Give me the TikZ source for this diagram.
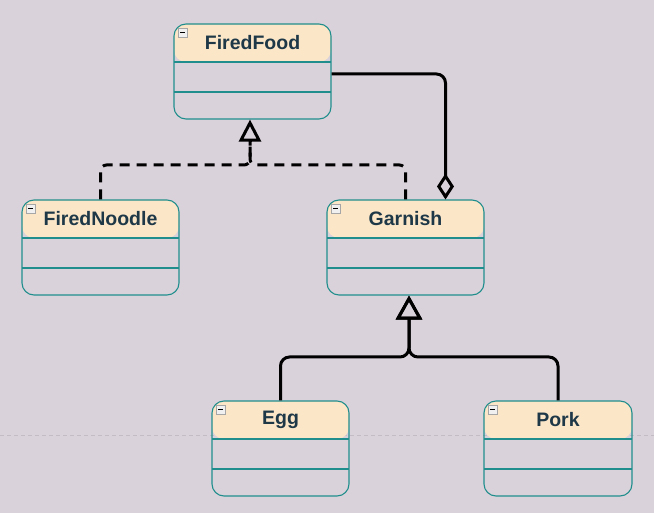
\documentclass[tikz,border=0pt]{standalone}
\usepackage{fontspec}
\setmainfont{Liberation Sans}
\usetikzlibrary{arrows.meta}

\definecolor{canvas}{RGB}{218,210,218}
\definecolor{headfill}{RGB}{251,230,200}
\definecolor{tealline}{RGB}{32,142,140}
\definecolor{nametext}{RGB}{30,56,72}
\definecolor{pagebreak}{RGB}{196,188,196}

\tikzset{
  classbox/.style={draw=tealline, line width=1.1pt, rounded corners=12pt,
    inner sep=0pt, minimum height=95pt,
    path picture={
      \fill[headfill] (path picture bounding box.north west) rectangle
        ([yshift=-38pt]path picture bounding box.north east);
      \draw[tealline, line width=1.1pt]
        ([yshift=-38pt]path picture bounding box.north west) --
        ([yshift=-38pt]path picture bounding box.north east);
      \draw[tealline, line width=1.1pt]
        ([yshift=-68pt]path picture bounding box.north west) --
        ([yshift=-68pt]path picture bounding box.north east);
    }},
  classname/.style={text=nametext, font=\fontsize{19.5}{22}\selectfont\bfseries, inner sep=0pt},
  iconbox/.style={draw=gray!70, fill=gray!12, line width=0.6pt},
  realize/.style={line width=3pt, dash pattern=on 10pt off 7pt, rounded corners=6pt},
  generalize/.style={line width=3pt, rounded corners=9pt, -{Triangle[open, length=24pt, width=26pt, line width=3pt]}},
  aggregate/.style={line width=3pt, rounded corners=9pt, -{Diamond[open, length=26pt, width=17pt, line width=3pt]}}
}

\newcommand{\umlclass}[5]{%
  \node[classbox, minimum width=#4pt] (#1) at (#2,#3+47.5) {};
  \node[classname] (#1-name) at ([yshift=-19pt]#1.north) {#5};
  \draw[iconbox] ([xshift=5pt,yshift=-5pt]#1.north west) rectangle +(9pt,-9pt);
  \draw[line width=1pt] ([xshift=7pt,yshift=-9.5pt]#1.north west) -- +(5pt,0);
}

\begin{document}
\begin{tikzpicture}[x=1pt,y=-1pt]

\fill[canvas] (0,0) rectangle (654,513);
\useasboundingbox (0,0) rectangle (654,513);
\draw[pagebreak, line width=0.6pt, dash pattern=on 4pt off 3pt] (0,435) -- (654,435);

\umlclass{firedfood}{252.5}{24}{157}{FiredFood}
\umlclass{firednoodle}{100.5}{200}{157}{FiredNoodle}
\umlclass{garnish}{405.5}{200}{157}{Garnish}
\umlclass{egg}{280.5}{401}{137}{Egg}
\umlclass{pork}{558}{401}{148}{Pork}

\coordinate (rjoin) at (250,165);
\coordinate (gjoin) at (409,357);

\draw[realize] (firednoodle.north) |- (rjoin) -- (rjoin |- 0,140);
\draw[realize] (garnish.north) |- (rjoin) -- (rjoin |- 0,140);
\draw[line width=3pt, -{Triangle[open, length=22pt, width=22pt, line width=3pt]}] (rjoin |- 0,142) -- (rjoin |- firedfood.south);

\draw[generalize] (egg.north) |- (gjoin) -- (gjoin |- garnish.south);
\draw[generalize] (pork.north) |- (gjoin) -- (gjoin |- garnish.south);

\draw[aggregate] ([yshift=-2.5pt]firedfood.east) -| ([xshift=40pt]garnish.north);

\end{tikzpicture}
\end{document}
